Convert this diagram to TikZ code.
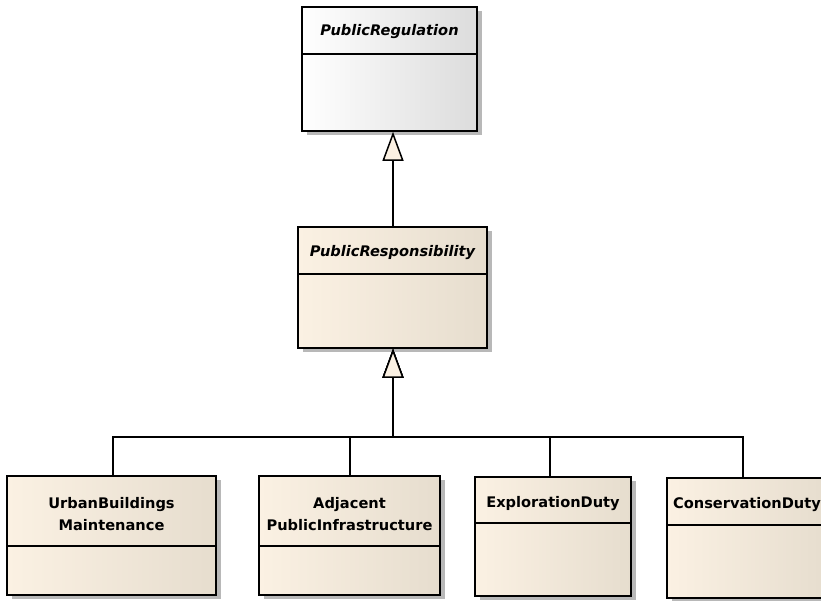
\documentclass[tikz,border=0pt]{standalone}
\usepackage{fontspec}
\newfontfamily\umlfont{DejaVu Sans}
\usetikzlibrary{positioning,calc,arrows.meta,shadows}
\definecolor{creamL}{HTML}{FBF1E3}
\definecolor{creamR}{HTML}{E6DDCE}
\definecolor{greyR}{HTML}{DCDCDC}
\tikzset{
  cls/.style   ={rectangle, draw=black, line width=1.6pt, inner sep=0pt,
                 left color=creamL, middle color=creamL, right color=creamR,
                 drop shadow={shadow xshift=5pt, shadow yshift=-4pt, fill=black!28, opacity=1}},
  abscls/.style={cls, left color=white, middle color=white, right color=greyR},
  ttl/.style   ={font=\umlfont\bfseries\fontsize{14.6}{22}\selectfont, align=center, inner sep=0pt},
  attl/.style  ={ttl, font=\umlfont\bfseries\itshape\fontsize{14.6}{22}\selectfont},
  div/.style   ={draw=black, line width=1.6pt},
  gen/.style   ={-{Triangle[open, length=29pt, width=21pt, fill=creamL]}, draw=black, line width=1.5pt},
}
\begin{document}
\begin{tikzpicture}[x=1pt, y=-1pt]
\useasboundingbox (0,0) rectangle (821,601);
\begin{scope}
\clip (0,0) rectangle (821,601);
% abstract classes
\node[abscls, minimum width=175pt, minimum height=124pt] (reg) at (389.5,69) {};
\draw[div] (302,54) -- (477,54);
\node[attl] (regt) at (389.5,32) {PublicRegulation};
\node[cls, minimum width=189pt, minimum height=121pt] (resp) at (392.5,287.5) {};
\draw[div] (298,274) -- (487,274);
\node[attl] (respt) at (392.5,253) {PublicResponsibility};
% concrete classes
\node[cls, minimum width=209pt, minimum height=119pt] (ubm) at (111.5,535.5) {};
\draw[div] (7,546) -- (216,546);
\node[ttl] (ubmt) at (111.5,514.5) {UrbanBuildings\\Maintenance};
\node[cls, minimum width=181pt, minimum height=119pt] (api) at (349.5,535.5) {};
\draw[div] (259,546) -- (440,546);
\node[ttl] (apit) at (349.5,514.5) {Adjacent\\PublicInfrastructure};
\node[cls, minimum width=156pt, minimum height=119pt] (exp) at (553,536.5) {};
\draw[div] (475,523) -- (631,523);
\node[ttl] (expt) at (553,504) {ExplorationDuty};
\node[cls, minimum width=160pt, minimum height=120pt] (con) at (747,538) {};
\draw[div] (667,525) -- (827,525);
\node[ttl] (cont) at (747,505) {ConservationDuty};
\end{scope}
% generalisations
\coordinate (bus) at (393,437);
\draw[gen] ([xshift=0.5pt]resp.north) -- ([xshift=3.5pt]reg.south);
\draw[gen] ([xshift=1.5pt]ubm.north) |- (bus) -- ([xshift=0.5pt]resp.south);
\draw[gen] ([xshift=0.5pt]api.north) |- (bus) -- ([xshift=0.5pt]resp.south);
\draw[gen] ([xshift=-3pt]exp.north) |- (bus) -- ([xshift=0.5pt]resp.south);
\draw[gen] ([xshift=-4pt]con.north) |- (bus) -- ([xshift=0.5pt]resp.south);
\end{tikzpicture}
\end{document}
